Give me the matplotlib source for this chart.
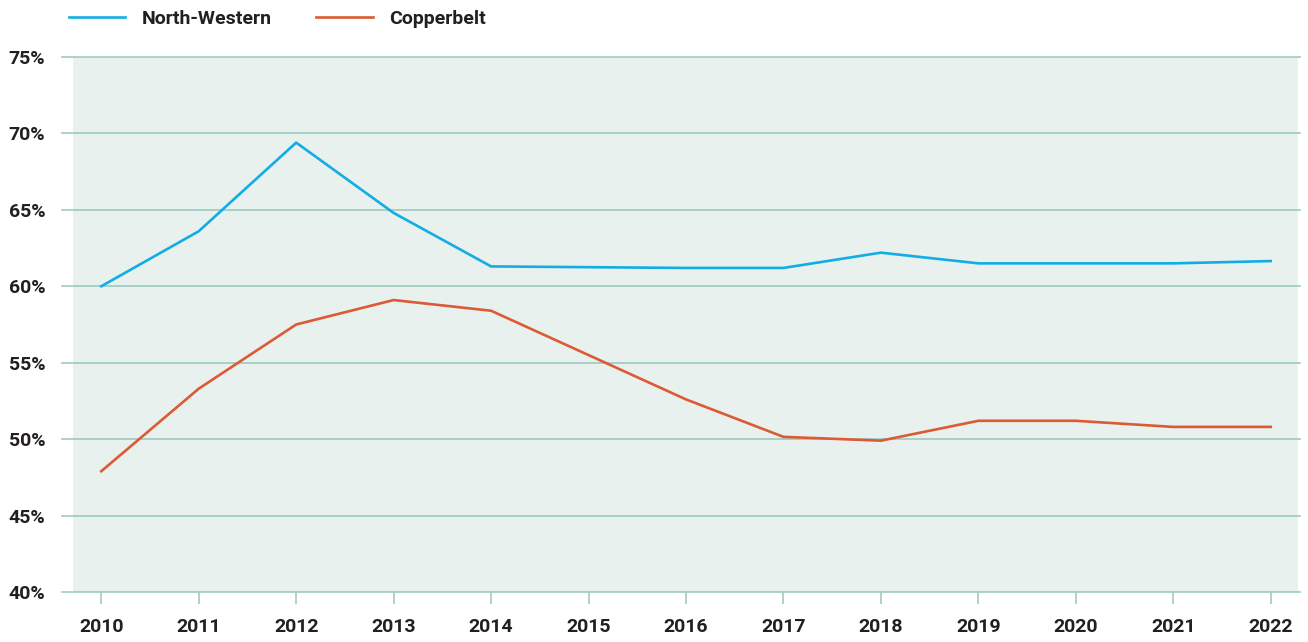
"""Share by province, 2010-2022."""

import matplotlib.pyplot as plt
from matplotlib.ticker import FuncFormatter

years = list(range(2010, 2023))
north_western = [60.0, 63.6, 69.4, 64.8, 61.3, 61.25, 61.2, 61.2, 62.2, 61.5, 61.5, 61.5, 61.65]
copperbelt = [47.9, 53.3, 57.5, 59.1, 58.4, 55.5, 52.6, 50.15, 49.9, 51.2, 51.2, 50.8, 50.8]
yticks = [40, 45, 50, 55, 60, 65, 70, 75]

plt.rcParams['font.family'] = ['Roboto', 'DejaVu Sans']
plt.rcParams['font.weight'] = 'bold'

grid_col = '#a6d0c8'
text_col = '#231f20'

fig = plt.figure(figsize=(13.08, 6.42), dpi=100)
ax = fig.add_axes([73 / 1308, 1 - 592 / 642, 1225 / 1308, 535 / 642])
ax.set_facecolor('#e8f1ee')

ax.plot(years, north_western, color='#11ade4', lw=1.9, label='North-Western')
ax.plot(years, copperbelt, color='#dc5a35', lw=1.9, label='Copperbelt')

ax.set_xlim(2009.71, 2022.28)
ax.set_ylim(40, 75)
ax.set_xticks(years)
ax.set_yticks(yticks)
ax.yaxis.set_major_formatter(FuncFormatter(lambda v, p: f"{v:.0f}%"))

for s in ax.spines.values():
    s.set_visible(False)
ax.grid(True, axis='y', color=grid_col, lw=1.3)
ax.set_axisbelow(True)
# gridlines continue left of the shaded area
for y in yticks:
    ax.plot([-11 / 1225, 1 + 2 / 1225], [y, y], transform=ax.get_yaxis_transform(),
            color=grid_col, lw=1.3, clip_on=False, zorder=0.5)

ax.tick_params(axis='y', length=0, pad=20, labelsize=14, labelcolor=text_col)
ax.tick_params(axis='x', length=8.5, width=1.3, color=grid_col, pad=10.5,
               labelsize=14, labelcolor=text_col)

fig.legend(loc='upper left', bbox_to_anchor=(59 / 1308, 1.0), ncol=2, frameon=False,
           fontsize=14, handlelength=2.9, handletextpad=0.85, columnspacing=2.3,
           labelcolor=text_col, borderaxespad=0.1)

fig.savefig('out.png', dpi=100)
